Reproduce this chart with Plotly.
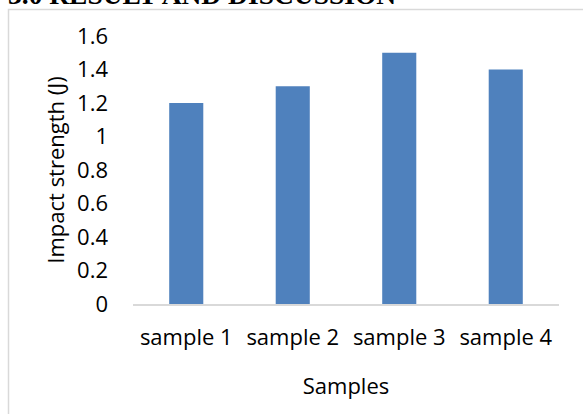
import plotly.graph_objects as go

# Impact test results
samples = ["sample 1", "sample 2", "sample 3", "sample 4"]
impact_strength = [1.2, 1.3, 1.5, 1.4]
y_ticks = [0, 0.2, 0.4, 0.6, 0.8, 1, 1.2, 1.4, 1.6]
y_tick_text = ["0", "0.2", "0.4", "0.6", "0.8", "1", "1.2", "1.4", "1.6"]

W, H = 583, 414
L, R, T, B = 133, 24, 36, 110
PW, PH = W - L - R, H - T - B


def px_x(x):
    return (x - L) / PW


def px_y(y):
    return (H - B - y) / PH


font_family = "Open Sans, Liberation Sans, sans-serif"
FS = 22

fig = go.Figure(
    go.Bar(
        x=samples,
        y=impact_strength,
        marker=dict(color="#4f81bd", line=dict(width=0)),
    )
)

fig.update_layout(
    width=W,
    height=H,
    margin=dict(l=L, r=R, t=T, b=B, pad=0),
    paper_bgcolor="white",
    plot_bgcolor="white",
    bargap=0.68,
    showlegend=False,
    font=dict(family=font_family, size=FS, color="#000000"),
)

fig.update_yaxes(
    range=[0, 1.6],
    tickvals=y_ticks,
    ticktext=y_tick_text,
    showgrid=False,
    zeroline=False,
    showline=False,
    ticks="",
    ticklabelstandoff=24,
    tickfont=dict(size=FS),
    title=dict(text="Impact strength (J)", font=dict(size=FS), standoff=6),
)

fig.update_xaxes(
    showgrid=False,
    showline=True,
    linecolor="#d9d9d9",
    linewidth=2,
    ticks="",
    ticklabelstandoff=13,
    tickfont=dict(size=FS),
    title=dict(text="Samples", font=dict(size=FS), standoff=28),
)

# chart frame
fig.add_shape(
    type="rect",
    xref="paper",
    yref="paper",
    x0=px_x(8.5),
    x1=px_x(W + 20),
    y0=px_y(H + 20),
    y1=px_y(9.5),
    line=dict(color="#d9d9d9", width=1.5),
    fillcolor="rgba(0,0,0,0)",
    layer="below",
)

# section heading above the chart
fig.add_annotation(
    text="<b>3.0 RESULT AND DISCUSSION</b>",
    xref="paper",
    yref="paper",
    x=px_x(6),
    y=px_y(12.5),
    xanchor="left",
    yanchor="bottom",
    showarrow=False,
    font=dict(family="Liberation Serif, Times New Roman, serif", size=27.5, color="#000000"),
)

fig.write_html("out.html")
